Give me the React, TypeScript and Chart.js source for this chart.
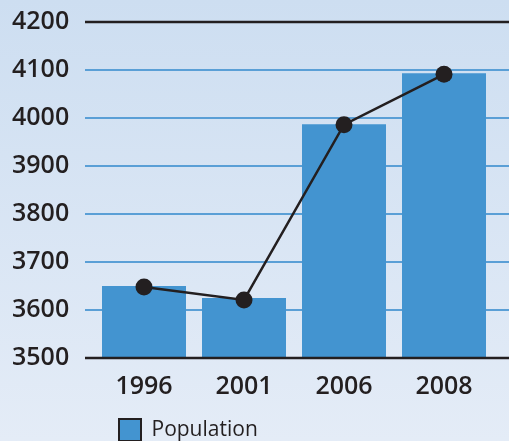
import React, { useEffect, useRef } from "react";
import { Chart, registerables } from "chart.js";

Chart.register(...registerables);

const categories = ["1996", "2001", "2006", "2008"];
const barValues = [3650, 3625, 3987, 4093];
const lineValues = [3648, 3621, 3986, 4091];
const yTicks = [3500, 3600, 3700, 3800, 3900, 4000, 4100, 4200];
const seriesName = "Population";

const INK = "#231f20";
const BAR = "#4394d0";
const GRID = "#5a9fd6";
const FONT = "'Open Sans', 'Liberation Sans', sans-serif";

const gridPlugin = {
  id: "customGrid",
  beforeDatasetsDraw(chart: any) {
    const { ctx } = chart;
    const y = chart.scales.y;
    ctx.save();
    for (const v of yTicks) {
      if (v === 3500) continue;
      const py = y.getPixelForValue(v);
      ctx.beginPath();
      ctx.strokeStyle = v === 4200 ? INK : GRID;
      ctx.lineWidth = v === 4200 ? 2.5 : 2;
      ctx.moveTo(85, py);
      ctx.lineTo(chart.width, py);
      ctx.stroke();
    }
    ctx.restore();
  },
  afterDatasetsDraw(chart: any) {
    const { ctx } = chart;
    const y = chart.scales.y;
    const py = y.getPixelForValue(3500);
    ctx.save();
    ctx.beginPath();
    ctx.strokeStyle = INK;
    ctx.lineWidth = 2.7;
    ctx.moveTo(85, py);
    ctx.lineTo(chart.width, py);
    ctx.stroke();
    ctx.restore();
  },
};

export default function App() {
  const ref = useRef<HTMLCanvasElement>(null);
  useEffect(() => {
    if (!ref.current) return;
    const chart = new Chart(ref.current, {
      type: "bar",
      data: {
        labels: categories,
        datasets: [
          {
            type: "line",
            label: "line",
            data: lineValues,
            borderColor: INK,
            backgroundColor: INK,
            borderWidth: 2.5,
            pointRadius: 8.5,
            pointBorderWidth: 0,
            pointBackgroundColor: INK,
            order: 0,
          } as any,
          {
            type: "bar",
            label: seriesName,
            data: barValues,
            backgroundColor: BAR,
            borderWidth: 0,
            barPercentage: 0.84,
            categoryPercentage: 1,
            order: 1,
          },
        ],
      },
      options: {
        animation: false,
        responsive: false,
        devicePixelRatio: 1,
        layout: { padding: { left: 12, right: 15, top: 22, bottom: 0 } },
        plugins: {
          tooltip: { enabled: false },
          legend: {
            position: "bottom",
            align: "start",
            fullSize: false,
            labels: {
              boxWidth: 22,
              boxHeight: 22,
              padding: 25,
              color: INK,
              font: { family: FONT, size: 21, weight: "normal" },
              generateLabels: (c: any) =>
                Chart.defaults.plugins.legend.labels
                  .generateLabels(c)
                  .filter((l: any) => l.text === seriesName)
                  .map((l: any) => ({ ...l, strokeStyle: INK, lineWidth: 2 })),
            },
          },
        },
        scales: {
          x: {
            grid: { display: false, drawTicks: false },
            border: { display: false },
            ticks: {
              color: INK,
              padding: 14,
              font: { family: FONT, size: 25, weight: "600" },
            },
            afterFit: (s: any) => {
              s.height = 36;
            },
          },
          y: {
            min: 3500,
            max: 4200,
            grid: { display: false, drawTicks: false },
            border: { display: false },
            ticks: {
              stepSize: 100,
              color: INK,
              crossAlign: "far",
              font: { family: FONT, size: 25, weight: "600" },
              callback: (v: any) => String(v),
            },
            afterFit: (s: any) => {
              s.width = 82;
            },
          },
        },
      },
      plugins: [gridPlugin],
    });
    return () => chart.destroy();
  }, []);

  return (
    <div
      style={{
        position: "absolute",
        left: 0,
        top: 0,
        width: 509,
        height: 441,
        overflow: "hidden",
        background: "linear-gradient(to bottom, #cddef1, #e4ecf7)",
      }}
    >
      <canvas ref={ref} width={509} height={451} style={{ display: "block" }} />
    </div>
  );
}
